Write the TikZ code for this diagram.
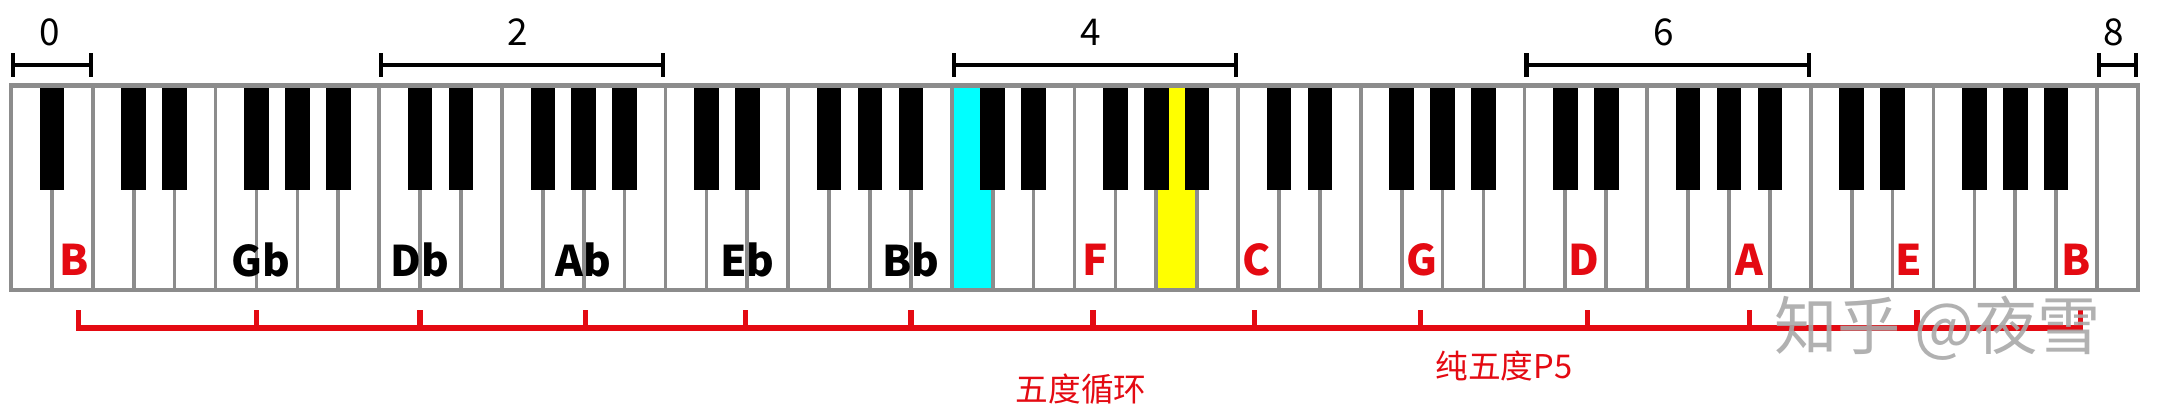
\documentclass[tikz,border=0pt]{standalone}
\usepackage{fontspec}
\setmainfont{Noto Sans CJK SC}
\usepackage{xcolor}
\usepackage{tikz}
\usetikzlibrary{arrows.meta}

\definecolor{fifthred}{RGB}{228,10,18}
\definecolor{keygray}{RGB}{140,140,140}
\definecolor{markgray}{RGB}{168,168,168}
\definecolor{midc}{RGB}{0,255,255}
\definecolor{concerta}{RGB}{255,255,0}

\begin{document}
\begin{tikzpicture}[x=0.409cm, y=0.409cm,
    every node/.style={inner sep=0pt},
    keyline/.style={keygray, line width=1.05pt},
    octbar/.style={black, line width=1.2pt, {Bar[width=6.8pt]}-{Bar[width=6.8pt]}},
    fifthbar/.style={fifthred, line width=1.5pt},
    notelbl/.style={font=\fontsize{12}{14}\selectfont\bfseries},
    octnum/.style={font=\fontsize{10.5}{12}\selectfont}]
    \useasboundingbox (-0.27,-3.1) rectangle (52.71,7.09);

    \fill[white] (0,0) rectangle (52,5);
    \fill[midc] (23,0) rectangle (24,5);
    \fill[concerta] (28,0) rectangle (29,5);

    \foreach \i in {1,...,51}
        \draw[keyline] (\i,0) -- (\i,5);

    % black keys: A#0, then C# D# F# G# A# of octaves 1-7
    \fill[black] (0.7,2.45) rectangle (1.3,5);
    \foreach \o in {0,...,6}
        \foreach \b in {1,2,4,5,6}
            \fill[black] ({2+7*\o+\b-0.3},2.45) rectangle ({2+7*\o+\b+0.3},5);

    \draw[keyline, line width=1.25pt] (0,0) rectangle (52,5);

    % octave brackets above the keys
    \draw[octbar] (0,5.5) -- (2,5.5);
    \draw[octbar] (9,5.5) -- (16,5.5);
    \draw[octbar] (23,5.5) -- (30,5.5);
    \draw[octbar] (37,5.5) -- (44,5.5);
    \draw[octbar] (51,5.5) -- (52,5.5);
    \node[octnum] (oct0) at (0.95,6.31) {0};
    \node[octnum] (oct2) at (12.4,6.31) {2};
    \node[octnum] (oct4) at (26.4,6.31) {4};
    \node[octnum] (oct6) at (40.4,6.31) {6};
    \node[octnum] (oct8) at (51.4,6.31) {8};

    % note names along the circle of fifths
    \foreach \x/\t/\c [count=\k] in {1.55/B/fifthred, 6.1/Gb/black, 10/Db/black,
        14/Ab/black, 18/Eb/black, 22/Bb/black, 26.5/F/fifthred, 30.45/C/fifthred,
        34.5/G/fifthred, 38.45/D/fifthred, 42.5/A/fifthred, 46.4/E/fifthred,
        50.5/B/fifthred}
        \node[notelbl, text=\c] (note\k) at (\x,0.73) {\t};

    \draw[fifthbar] (1.65,-0.49) -- (1.65,-0.93) -- (50.6,-0.93) -- (50.6,-0.49);
    \foreach \x in {6,10,14.05,17.95,22,26.45,30.4,34.45,38.55,42.5,46.6}
        \draw[fifthbar] (\x,-0.49) -- (\x,-0.93);

    \node[text=fifthred, font=\fontsize{9.3}{11}\selectfont] (pfifth) at (36.5,-1.86) {纯五度P5};
    \node[text=fifthred, font=\fontsize{9.3}{11}\selectfont] (cycle) at (26.16,-2.42) {五度循环};
    \node[text=markgray, font=\fontsize{18}{20}\selectfont, opacity=0.9] (mark) at (47.1,-0.93) {知乎 @夜雪};
\end{tikzpicture}
\end{document}
